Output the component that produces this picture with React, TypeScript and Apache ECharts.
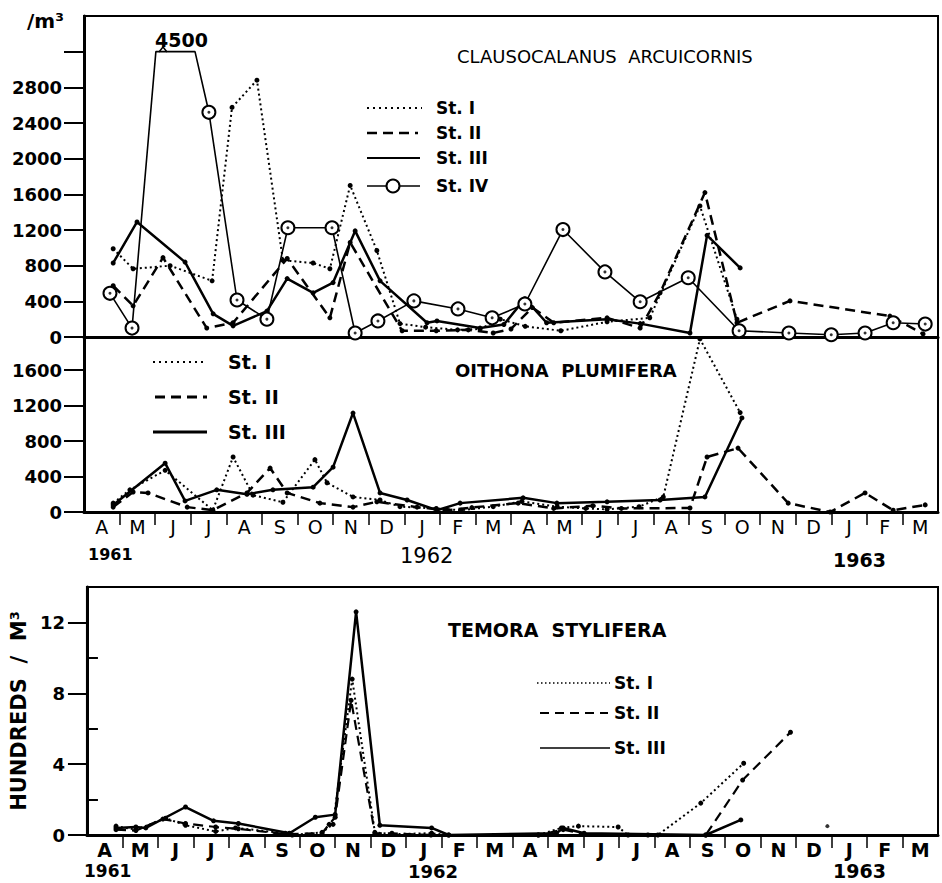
import React, { useEffect, useRef } from "react";
import * as echarts from "echarts";

const FONT = "DejaVu Sans";

// x positions are months elapsed since the start of April 1961
const MONTHS = ["A", "M", "J", "J", "A", "S", "O", "N", "D", "J", "F", "M", "A", "M", "J", "J", "A", "S", "O", "N", "D", "J", "F", "M"];
const MONTH_BOUNDARIES = [1, 2, 3, 4, 5, 6, 7, 8, 9, 10, 11, 12, 13, 14, 15, 16, 17, 18, 19, 20, 21, 22, 23];
const MONTH_CENTRES = [0.5, 1.5, 2.5, 3.5, 4.5, 5.5, 6.5, 7.5, 8.5, 9.5, 10.5, 11.5, 12.5, 13.5, 14.5, 15.5, 16.5, 17.5, 18.5, 19.5, 20.5, 21.5, 22.5, 23.5];

// Top panel: Clausocalanus arcuicornis (/m3)
const CLAUS_TICKS = [0, 400, 800, 1200, 1600, 2000, 2400, 2800, 3200];
const CLAUS_LABELS = [0, 400, 800, 1200, 1600, 2000, 2400, 2800];
const BREAK_VALUE = 3200; // axis position of the broken 4500 plateau
const BREAK_LABEL = "4500";
const clausSt1 = [[0.82, 990], [1.38, 765], [2.42, 800], [3.6, 630], [4.16, 2575], [4.86, 2880], [5.59, 860], [6.44, 830], [6.91, 765], [7.48, 1700], [8.23, 970], [8.88, 150], [9.6, 110], [10.5, 80], [11.13, 90], [11.7, 200], [12.4, 120], [13.4, 70], [14.7, 170], [15.9, 215], [17.31, 1470], [18.35, 200]];
const clausSt2 = [[0.82, 575], [1.38, 350], [2.22, 890], [3.45, 100], [4.19, 160], [5.71, 880], [6.91, 215], [7.48, 1060], [8.94, 70], [9.9, 70], [10.8, 80], [11.5, 45], [12.0, 90], [12.6, 330], [13.2, 160], [14.7, 215], [15.63, 100], [16.19, 495], [17.45, 1620], [18.35, 160], [19.84, 405], [22.65, 235], [23.58, 35]];
const clausSt3 = [[0.82, 830], [1.49, 1290], [2.84, 840], [3.63, 260], [4.19, 125], [5.14, 290], [5.71, 655], [6.44, 495], [7.0, 610], [7.62, 1190], [8.32, 630], [9.64, 160], [9.92, 180], [11.13, 100], [11.8, 140], [12.39, 430], [13.0, 160], [14.7, 200], [15.63, 150], [17.03, 45], [17.51, 1140], [18.44, 775]];
const clausSt4 = [[0.73, 490], [1.35, 100], [2.02, 3200], [3.12, 3200], [3.51, 2520], [4.3, 415], [5.14, 200], [5.73, 1225], [6.97, 1225], [7.62, 45], [8.26, 180], [9.27, 405], [10.51, 315], [11.47, 215], [12.39, 370], [13.46, 1205], [14.64, 730], [15.63, 395], [16.98, 665], [18.41, 70], [19.81, 45], [21.0, 25], [21.95, 45], [22.74, 160], [23.64, 145]];

// Middle panel: Oithona plumifera (/m3)
const OITH_TICKS = [0, 400, 800, 1200, 1600];
const oithSt1 = [[0.82, 100], [1.29, 250], [2.28, 470], [3.62, 20], [4.19, 620], [4.75, 190], [5.59, 110], [6.49, 590], [6.83, 330], [7.56, 170], [8.32, 135], [8.88, 60], [9.9, 40], [10.6, 20], [11.5, 60], [12.3, 120], [13.3, 60], [14.1, 40], [14.7, 30], [15.6, 60], [16.28, 170], [17.31, 1950], [18.44, 1120]];
const oithSt2 = [[0.82, 55], [1.38, 225], [1.8, 215], [2.9, 55], [3.62, 20], [4.58, 215], [5.23, 495], [5.71, 215], [6.63, 100], [7.56, 55], [8.23, 115], [9.36, 55], [10.2, 20], [10.9, 50], [12.2, 100], [13.2, 40], [14.3, 70], [15.1, 40], [17.03, 45], [17.51, 620], [18.38, 720], [19.79, 100], [20.97, 0], [21.95, 215], [22.74, 20], [23.64, 80]];
const oithSt3 = [[0.82, 80], [2.28, 550], [2.84, 125], [3.73, 250], [4.58, 200], [5.31, 250], [6.44, 280], [7.0, 505], [7.56, 1115], [8.32, 215], [9.08, 135], [9.92, 20], [10.57, 100], [12.34, 160], [13.29, 100], [14.7, 115], [16.19, 135], [17.45, 170], [18.49, 1060]];

// Bottom panel: Temora stylifera (hundreds/m3)
const TEM_MAJOR = [0, 4, 8, 12];
const TEM_MINOR = [2, 6, 10];
const temSt1 = [[0.82, 0.5], [1.38, 0.3], [2.22, 0.95], [2.78, 0.55], [3.63, 0.2], [4.19, 0.4], [5.59, 0.1], [5.79, 0], [6.63, 0.15], [6.94, 0.6], [7.48, 8.8], [8.12, 0.15], [8.6, 0.05], [9.72, 0.1], [10.2, 0], [12.73, 0], [13.38, 0.4], [13.86, 0.5], [14.98, 0.45], [15.26, 0], [16.1, 0], [17.31, 1.8], [18.52, 4.05]];
const temSt1Isolated = [[20.88, 0.5]];
const temSt2 = [[0.82, 0.3], [1.38, 0.25], [2.14, 0.9], [2.78, 0.65], [3.63, 0.45], [4.27, 0.35], [5.59, 0.05], [6.63, 0.1], [6.83, 0.6], [7.0, 1.0], [7.45, 7.6], [8.12, 0.1], [8.6, 0.1], [9.7, 0], [12.73, 0], [13.43, 0.3], [14.02, 0.05], [15.82, 0], [17.45, 0], [18.49, 3.1], [19.84, 5.8]];
const temSt3 = [[0.82, 0.4], [1.38, 0.45], [1.66, 0.4], [2.78, 1.58], [3.57, 0.8], [4.27, 0.65], [5.71, 0.1], [6.44, 1.0], [7.0, 1.15], [7.59, 12.6], [8.26, 0.55], [9.72, 0.4], [10.2, 0], [13.24, 0.1], [13.43, 0.4], [14.02, 0.1], [17.45, 0], [18.44, 0.85]];

const DOTTED = [2, 3];
const DASHED = [10, 6];

function monthAxis(gridIndex: number, labels: boolean, bold: boolean) {
  return {
    type: "value",
    gridIndex,
    min: 0,
    max: 24,
    axisLine: { show: true, onZero: false, lineStyle: { color: "#000", width: 3 } },
    axisTick: { show: labels, customValues: MONTH_BOUNDARIES, length: 13, lineStyle: { color: "#000", width: 1.5 } },
    axisLabel: {
      show: labels,
      customValues: MONTH_CENTRES,
      formatter: (v: number) => MONTHS[Math.floor(v)] ?? "",
      color: "#000",
      fontFamily: FONT,
      fontSize: 19,
      fontWeight: bold ? "bold" : "normal",
      margin: 5,
    },
    splitLine: { show: false },
  };
}

function valueAxis(gridIndex: number, max: number, ticks: number[], labels: number[] | null, tickLen: number, showLine = true) {
  return {
    type: "value",
    gridIndex,
    min: 0,
    max,
    axisLine: { show: showLine, lineStyle: { color: "#000", width: 3 } },
    axisTick: { show: true, customValues: ticks, length: tickLen, lineStyle: { color: "#000", width: 2 } },
    axisLabel: labels
      ? { show: true, customValues: labels, formatter: (v: number) => String(v), color: "#000", fontFamily: FONT, fontSize: 18, fontWeight: "bold", margin: 22 }
      : { show: false },
    splitLine: { show: false },
  };
}

function lineSeries(data: number[][], axis: number, dash: any, width: number, dotSize = 5) {
  return {
    type: "line",
    xAxisIndex: axis,
    yAxisIndex: axis,
    data,
    symbol: "circle",
    symbolSize: dotSize,
    itemStyle: { color: "#000" },
    lineStyle: { color: "#000", width, type: dash },
    z: 3,
  };
}

function legendLine(x1: number, x2: number, y: number, dash: number[] | null, w: number) {
  return { type: "line", silent: true, shape: { x1, y1: y, x2, y2: y }, style: { stroke: "#000", lineWidth: w, lineDash: dash || undefined } };
}

function txt(x: number, y: number, text: string, size: number, weight: string, extra: any = {}) {
  return {
    type: "text",
    silent: true,
    x,
    y,
    style: { text, fill: "#000", fontFamily: FONT, fontSize: size, fontWeight: weight, align: "left", verticalAlign: "middle" },
    ...extra,
  };
}

export default function App() {
  const ref = useRef<HTMLDivElement>(null);
  useEffect(() => {
    if (!ref.current) return;
    const chart = echarts.init(ref.current, undefined, { renderer: "svg" });

    const st4Data = clausSt4.map((p) => (p[1] === BREAK_VALUE ? { value: p, symbol: "none" } : p));
    const st4Centres = clausSt4.filter((p) => p[1] !== BREAK_VALUE);

    const option: any = {
      animation: false,
      backgroundColor: "#fff",
      grid: [
        { left: 84, top: 16, width: 854, height: 321, show: true, borderColor: "#000", borderWidth: 2 },
        { left: 84, top: 337, width: 854, height: 175, show: true, borderColor: "#000", borderWidth: 2 },
        { left: 84, top: 587, width: 854, height: 248, show: true, borderColor: "#000", borderWidth: 2 },
      ],
      xAxis: [monthAxis(0, false, false), monthAxis(1, true, false), monthAxis(2, true, true), { ...monthAxis(2, false, false), axisLine: { show: false } }],
      yAxis: [
        valueAxis(0, 3600, CLAUS_TICKS, CLAUS_LABELS, 20),
        valueAxis(1, 1972, OITH_TICKS, OITH_TICKS, 20),
        {
          ...valueAxis(2, 14, TEM_MAJOR, TEM_MAJOR, 19),
          name: "HUNDREDS  /  M³",
          nameLocation: "middle",
          nameRotate: 90,
          nameGap: 42,
          nameTextStyle: { color: "#000", fontFamily: FONT, fontSize: 21, fontWeight: "bold" },
        },
        valueAxis(2, 14, TEM_MINOR, null, 11, false),
      ],
      series: [
        lineSeries(clausSt1, 0, DOTTED, 2),
        lineSeries(clausSt2, 0, DASHED, 2.5),
        lineSeries(clausSt3, 0, "solid", 2.5),
        {
          type: "line",
          xAxisIndex: 0,
          yAxisIndex: 0,
          data: st4Data,
          symbol: "emptyCircle",
          symbolSize: 13,
          itemStyle: { color: "#000", borderWidth: 2 },
          lineStyle: { color: "#000", width: 1.6 },
          z: 4,
        },
        {
          type: "scatter",
          xAxisIndex: 0,
          yAxisIndex: 0,
          data: st4Centres,
          symbol: "circle",
          symbolSize: 3,
          itemStyle: { color: "#000" },
          z: 5,
        },
        lineSeries(oithSt1, 1, DOTTED, 2),
        lineSeries(oithSt2, 1, DASHED, 2.5),
        lineSeries(oithSt3, 1, "solid", 2.5),
        lineSeries(temSt1, 2, DOTTED, 2),
        { type: "scatter", xAxisIndex: 2, yAxisIndex: 2, data: temSt1Isolated, symbol: "circle", symbolSize: 4, itemStyle: { color: "#000" } },
        lineSeries(temSt2, 2, DASHED, 2.2),
        lineSeries(temSt3, 2, "solid", 2.5),
      ],
      graphic: [
        txt(27, 21, "/m³", 20, "bold"),
        txt(155, 40, BREAK_LABEL, 19, "bold"),
        { type: "polyline", silent: true, shape: { points: [[159, 52], [163, 47], [167, 52]] }, style: { stroke: "#000", lineWidth: 1.5, fill: "none" } },
        txt(457, 56, "CLAUSOCALANUS  ARCUICORNIS", 18, "normal"),
        legendLine(367, 422, 108, [2, 4], 2),
        txt(436, 108, "St. I", 17, "bold"),
        legendLine(367, 418, 133, [10, 6], 2.5),
        txt(436, 133, "St. II", 17, "bold"),
        legendLine(367, 420, 158, null, 2),
        txt(436, 158, "St. III", 17, "bold"),
        legendLine(367, 420, 186, null, 1.6),
        { type: "circle", silent: true, shape: { cx: 393, cy: 186, r: 6.5 }, style: { fill: "#fff", stroke: "#000", lineWidth: 2 } },
        txt(436, 186, "St. IV", 17, "bold"),

        txt(455, 370, "OITHONA  PLUMIFERA", 18, "bold"),
        legendLine(153, 207, 362, [2, 4], 2),
        txt(228, 362, "St. I", 19, "bold"),
        legendLine(155, 207, 397, [10, 6], 3),
        txt(228, 397, "St. II", 19, "bold"),
        legendLine(153, 207, 432, null, 3),
        txt(228, 432, "St. III", 19, "bold"),

        txt(88, 554, "1961", 16, "bold"),
        txt(400, 556, "1962", 21, "normal"),
        txt(833, 560, "1963", 19, "bold"),

        txt(448, 630, "TEMORA  STYLIFERA", 19, "bold"),
        legendLine(537, 610, 683, [1.5, 2.5], 1.5),
        txt(614, 683, "St. I", 17, "bold"),
        legendLine(540, 608, 713, [9, 6], 2),
        txt(614, 713, "St. II", 17, "bold"),
        legendLine(540, 610, 748, null, 1.6),
        txt(614, 748, "St. III", 17, "bold"),

        txt(84, 871, "1961", 17, "bold"),
        txt(408, 871, "1962", 18, "bold"),
        txt(833, 871, "1963", 19, "bold"),
      ],
    };
    chart.setOption(option);
    return () => chart.dispose();
  }, []);
  return <div ref={ref} style={{ position: "fixed", left: 0, top: 0, width: 942, height: 883, background: "#fff" }} />;
}
